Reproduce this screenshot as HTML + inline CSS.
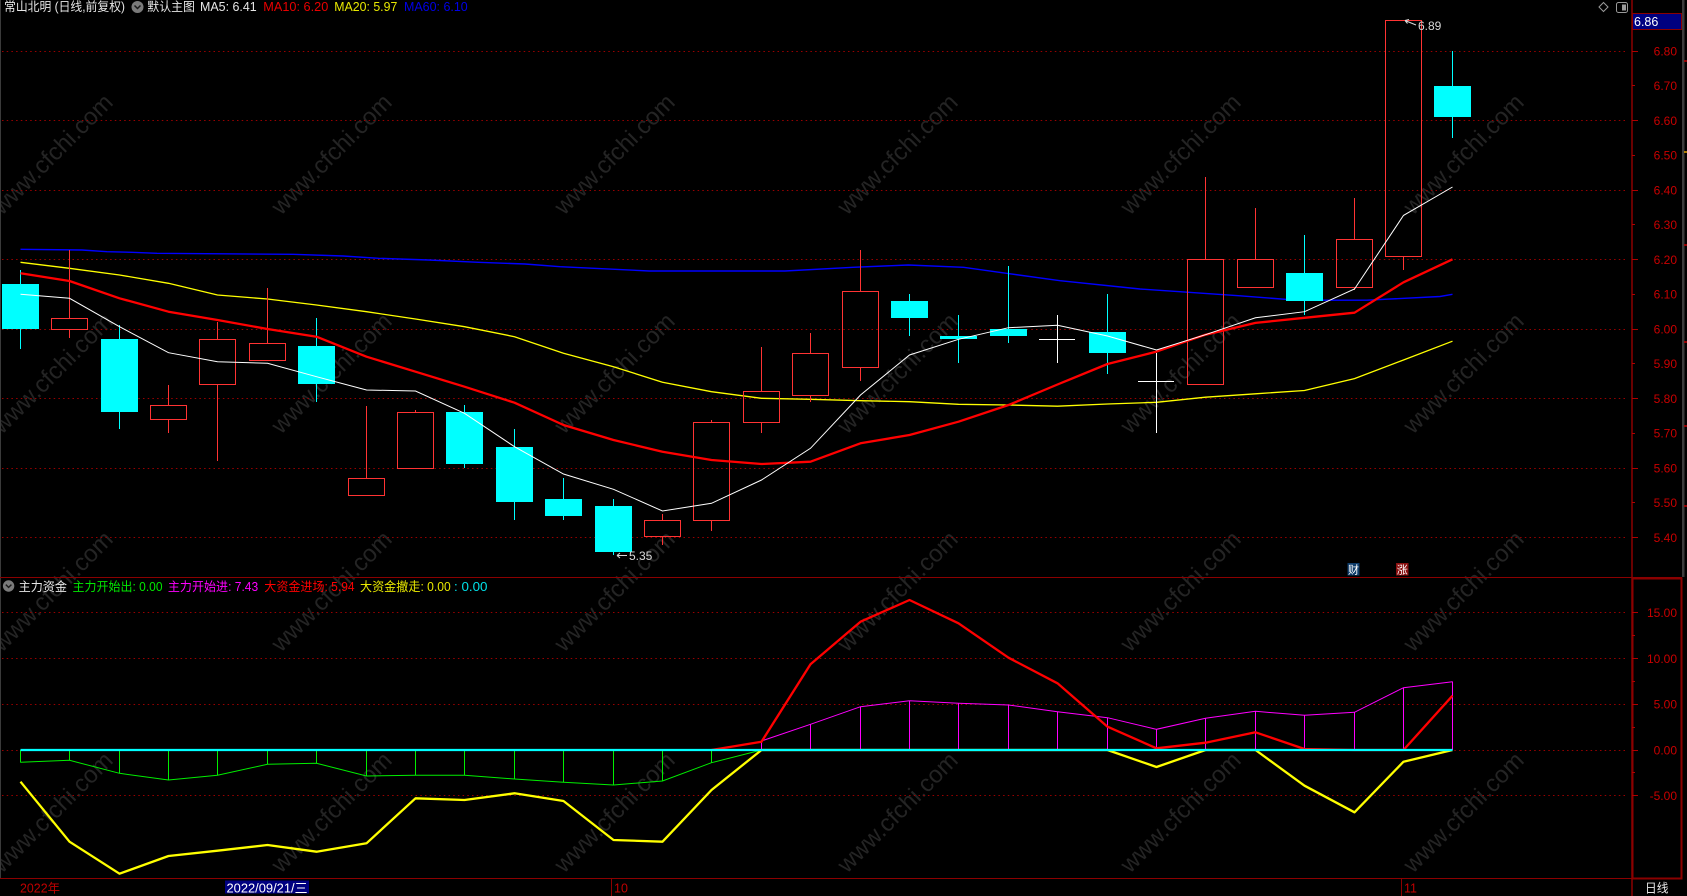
<!DOCTYPE html>
<html><head><meta charset="utf-8"><style>html,body{margin:0;padding:0;background:#000;}svg{display:block}</style></head>
<body>
<svg width="1687" height="896" viewBox="0 0 1687 896" xmlns="http://www.w3.org/2000/svg" font-family="Liberation Sans, Noto Sans CJK SC, sans-serif">
<rect x="0" y="0" width="1687" height="896" fill="#000"/>

<!-- watermarks -->
<g fill="#242424" font-size="24">
<text x="2" y="216" transform="rotate(-45 2 216)">www.cfchi.com</text>
<text x="281" y="216" transform="rotate(-45 281 216)">www.cfchi.com</text>
<text x="564" y="216" transform="rotate(-45 564 216)">www.cfchi.com</text>
<text x="847" y="216" transform="rotate(-45 847 216)">www.cfchi.com</text>
<text x="1130" y="216" transform="rotate(-45 1130 216)">www.cfchi.com</text>
<text x="1413" y="216" transform="rotate(-45 1413 216)">www.cfchi.com</text>
<text x="2" y="435" transform="rotate(-45 2 435)">www.cfchi.com</text>
<text x="281" y="435" transform="rotate(-45 281 435)">www.cfchi.com</text>
<text x="564" y="435" transform="rotate(-45 564 435)">www.cfchi.com</text>
<text x="847" y="435" transform="rotate(-45 847 435)">www.cfchi.com</text>
<text x="1130" y="435" transform="rotate(-45 1130 435)">www.cfchi.com</text>
<text x="1413" y="435" transform="rotate(-45 1413 435)">www.cfchi.com</text>
<text x="2" y="653" transform="rotate(-45 2 653)">www.cfchi.com</text>
<text x="281" y="653" transform="rotate(-45 281 653)">www.cfchi.com</text>
<text x="564" y="653" transform="rotate(-45 564 653)">www.cfchi.com</text>
<text x="847" y="653" transform="rotate(-45 847 653)">www.cfchi.com</text>
<text x="1130" y="653" transform="rotate(-45 1130 653)">www.cfchi.com</text>
<text x="1413" y="653" transform="rotate(-45 1413 653)">www.cfchi.com</text>
<text x="2" y="874" transform="rotate(-45 2 874)">www.cfchi.com</text>
<text x="281" y="874" transform="rotate(-45 281 874)">www.cfchi.com</text>
<text x="564" y="874" transform="rotate(-45 564 874)">www.cfchi.com</text>
<text x="847" y="874" transform="rotate(-45 847 874)">www.cfchi.com</text>
<text x="1130" y="874" transform="rotate(-45 1130 874)">www.cfchi.com</text>
<text x="1413" y="874" transform="rotate(-45 1413 874)">www.cfchi.com</text>
</g>

<!-- frame lines -->
<line x1="0.5" y1="0" x2="0.5" y2="879" stroke="#3a3a3a"/>
<line x1="0" y1="577.5" x2="1682" y2="577.5" stroke="#8b0000"/>
<line x1="0" y1="878.5" x2="1682" y2="878.5" stroke="#8b0000"/>
<line x1="1632" y1="0" x2="1632" y2="896" stroke="#8b0000" stroke-width="1.5"/>
<rect x="1632.5" y="578.5" width="49" height="300" fill="none" stroke="#8b0000" stroke-width="2"/>
<rect x="1682" y="0" width="2.5" height="577" fill="#3c3c3c"/>
<g stroke-width="1.5">
<line x1="1684" y1="61" x2="1687" y2="61" stroke="#c00000"/>
<line x1="1684" y1="152" x2="1687" y2="152" stroke="#e0a000"/>
<line x1="1684" y1="245" x2="1687" y2="245" stroke="#c00000"/>
<line x1="1684" y1="342" x2="1687" y2="342" stroke="#c00000"/>
<line x1="1684" y1="426" x2="1687" y2="426" stroke="#c00000"/>
<line x1="1684" y1="506" x2="1687" y2="506" stroke="#c00000"/>
</g>

<!-- grid main -->
<g stroke="#9a0000" stroke-width="1" stroke-dasharray="1.5,3.2">
<line x1="2" y1="51.5" x2="1627" y2="51.5"/>
<line x1="2" y1="120.5" x2="1627" y2="120.5"/>
<line x1="2" y1="190.5" x2="1627" y2="190.5"/>
<line x1="2" y1="259.5" x2="1627" y2="259.5"/>
<line x1="2" y1="329.5" x2="1627" y2="329.5"/>
<line x1="2" y1="398.5" x2="1627" y2="398.5"/>
<line x1="2" y1="468.5" x2="1627" y2="468.5"/>
<line x1="2" y1="537.5" x2="1627" y2="537.5"/>
<line x1="2" y1="612.5" x2="1627" y2="612.5"/>
<line x1="2" y1="658.5" x2="1627" y2="658.5"/>
<line x1="2" y1="704.5" x2="1627" y2="704.5"/>
<line x1="2" y1="750.5" x2="1627" y2="750.5"/>
<line x1="2" y1="795.5" x2="1627" y2="795.5"/>
</g>

<!-- axis ticks -->
<g stroke="#b00000" stroke-width="1">
<line x1="1632" y1="51.5" x2="1638" y2="51.5"/><line x1="1632" y1="85.5" x2="1635" y2="85.5"/>
<line x1="1632" y1="120.5" x2="1638" y2="120.5"/><line x1="1632" y1="155.5" x2="1635" y2="155.5"/>
<line x1="1632" y1="190.5" x2="1638" y2="190.5"/><line x1="1632" y1="224.5" x2="1635" y2="224.5"/>
<line x1="1632" y1="259.5" x2="1638" y2="259.5"/><line x1="1632" y1="294.5" x2="1635" y2="294.5"/>
<line x1="1632" y1="329.5" x2="1638" y2="329.5"/><line x1="1632" y1="363.5" x2="1635" y2="363.5"/>
<line x1="1632" y1="398.5" x2="1638" y2="398.5"/><line x1="1632" y1="433.5" x2="1635" y2="433.5"/>
<line x1="1632" y1="468.5" x2="1638" y2="468.5"/><line x1="1632" y1="502.5" x2="1635" y2="502.5"/>
<line x1="1632" y1="537.5" x2="1638" y2="537.5"/>
<line x1="1632" y1="612.5" x2="1638" y2="612.5"/><line x1="1632" y1="635.5" x2="1635" y2="635.5"/>
<line x1="1632" y1="658.5" x2="1638" y2="658.5"/><line x1="1632" y1="681.5" x2="1635" y2="681.5"/>
<line x1="1632" y1="704.5" x2="1638" y2="704.5"/><line x1="1632" y1="727.5" x2="1635" y2="727.5"/>
<line x1="1632" y1="750.5" x2="1638" y2="750.5"/><line x1="1632" y1="772.5" x2="1635" y2="772.5"/>
<line x1="1632" y1="795.5" x2="1638" y2="795.5"/>
</g>

<!-- axis labels -->
<g fill="#c80000" font-size="12" text-anchor="end">
<text x="1677" y="55.5">6.80</text>
<text x="1677" y="90">6.70</text>
<text x="1677" y="124.8">6.60</text>
<text x="1677" y="159.5">6.50</text>
<text x="1677" y="194.3">6.40</text>
<text x="1677" y="229">6.30</text>
<text x="1677" y="263.8">6.20</text>
<text x="1677" y="298.5">6.10</text>
<text x="1677" y="333.3">6.00</text>
<text x="1677" y="368">5.90</text>
<text x="1677" y="402.8">5.80</text>
<text x="1677" y="437.5">5.70</text>
<text x="1677" y="472.3">5.60</text>
<text x="1677" y="507">5.50</text>
<text x="1677" y="541.8">5.40</text>
<text x="1677" y="617">15.00</text>
<text x="1677" y="662.8">10.00</text>
<text x="1677" y="708.5">5.00</text>
<text x="1677" y="754.3">0.00</text>
<text x="1677" y="800">-5.00</text>
</g>

<!-- current price box -->
<rect x="1632.5" y="13.5" width="49" height="16" fill="#000080" stroke="#8b0000" stroke-width="1"/>
<text x="1634" y="26" fill="#ffffff" font-size="12.5">6.86</text>

<!-- top right icons -->
<path d="M1603.5,2.5 L1608,7 L1603.5,11.5 L1599,7 Z" fill="none" stroke="#9a9a9a" stroke-width="1"/>
<rect x="1616.5" y="2.5" width="11" height="10" rx="2" fill="none" stroke="#9a9a9a"/>
<rect x="1622" y="4.5" width="4" height="6" fill="#9a9a9a"/>

<!-- header -->
<g font-size="12.5">
<text x="4" y="11" fill="#e6e6e6" textLength="121" lengthAdjust="spacingAndGlyphs">常山北明 (日线,前复权)</text>
<circle cx="137.5" cy="7" r="6" fill="#7a7a7a"/>
<path d="M134.5,5.5 L137.5,8.5 L140.5,5.5" fill="none" stroke="#1a1a1a" stroke-width="1.5"/>
<text x="147.3" y="11" fill="#e6e6e6" textLength="47.7" lengthAdjust="spacingAndGlyphs">默认主图</text>
<text x="200" y="11" fill="#e6e6e6" textLength="56.7" lengthAdjust="spacingAndGlyphs">MA5: 6.41</text>
<text x="263.3" y="11" fill="#e80000" textLength="65" lengthAdjust="spacingAndGlyphs">MA10: 6.20</text>
<text x="334.3" y="11" fill="#e8e800" textLength="63" lengthAdjust="spacingAndGlyphs">MA20: 5.97</text>
<text x="404" y="11" fill="#0000e8" textLength="63.7" lengthAdjust="spacingAndGlyphs">MA60: 6.10</text>
</g>

<!-- MA lines -->
<polyline fill="none" stroke="#0000ff" stroke-width="1.4" points="20.5,249.3 82,250 107,251.7 132,252.3 157,253.3 293,254.3 343,256 378.6,258.3 428.6,260 478.6,262.3 525,264 560,266.7 649.3,271 785,271 852.9,267.3 908.2,265 963.6,267.3 1006.4,273.3 1060,280.7 1140,289 1240,295.8 1296.7,300.2 1366.7,300.2 1440,296.5 1452.5,294.3"/>
<polyline fill="none" stroke="#ffff00" stroke-width="1.3" points="20.5,262.3 69.5,268.3 119.5,275 168.5,283.3 217.5,295 267.5,299 316.5,305 366.5,311.7 415.5,319 464.5,326.7 514.5,336.7 563.5,353.3 613.5,366.7 662.5,382.3 711.5,391.7 761.5,398.3 810.5,399.3 860.5,400.7 909.5,401.7 958.5,404.3 1008.5,405 1057.5,406.2 1107.5,404 1156.5,402.3 1205.5,397.2 1255.5,393.8 1304.5,390.5 1354.5,378.6 1403.5,360 1452.5,341.2"/>

<!-- candles -->
<g stroke-width="1" shape-rendering="crispEdges">
<g stroke="#00ffff" fill="#00ffff">
<line x1="20.5" y1="270" x2="20.5" y2="349"/><rect x="2" y="284" width="37" height="45" stroke="none"/>
<line x1="119.5" y1="325" x2="119.5" y2="429"/><rect x="101" y="339" width="37" height="73" stroke="none"/>
<line x1="316.5" y1="318" x2="316.5" y2="402"/><rect x="298" y="346" width="37" height="38" stroke="none"/>
<line x1="464.5" y1="405" x2="464.5" y2="468"/><rect x="446" y="412" width="37" height="52" stroke="none"/>
<line x1="514.5" y1="429" x2="514.5" y2="520"/><rect x="496" y="447" width="37" height="55" stroke="none"/>
<line x1="563.5" y1="478" x2="563.5" y2="520"/><rect x="545" y="499" width="37" height="17" stroke="none"/>
<line x1="613.5" y1="499" x2="613.5" y2="555"/><rect x="595" y="506" width="37" height="46" stroke="none"/>
<line x1="909.5" y1="294" x2="909.5" y2="336"/><rect x="891" y="301" width="37" height="17" stroke="none"/>
<line x1="958.5" y1="315" x2="958.5" y2="363"/><rect x="940" y="336" width="37" height="3" stroke="none"/>
<line x1="1008.5" y1="266" x2="1008.5" y2="343"/><rect x="990" y="329" width="37" height="7" stroke="none"/>
<line x1="1107.5" y1="294" x2="1107.5" y2="374"/><rect x="1089" y="332" width="37" height="21" stroke="none"/>
<line x1="1304.5" y1="235" x2="1304.5" y2="315"/><rect x="1286" y="273" width="37" height="28" stroke="none"/>
<line x1="1452.5" y1="51" x2="1452.5" y2="138"/><rect x="1434" y="86" width="37" height="31" stroke="none"/>
</g>
<g stroke="#ff3333" fill="none">
<line x1="69.5" y1="250" x2="69.5" y2="318.5"/><line x1="69.5" y1="329.5" x2="69.5" y2="338"/><rect x="51.5" y="318.5" width="36" height="11"/>
<line x1="168.5" y1="385" x2="168.5" y2="405.5"/><line x1="168.5" y1="419.5" x2="168.5" y2="433"/><rect x="150.5" y="405.5" width="36" height="14"/>
<line x1="217.5" y1="322" x2="217.5" y2="339.5"/><line x1="217.5" y1="384.5" x2="217.5" y2="461"/><rect x="199.5" y="339.5" width="36" height="45"/>
<line x1="267.5" y1="288" x2="267.5" y2="343.5"/><rect x="249.5" y="343.5" width="36" height="17"/>
<line x1="366.5" y1="406" x2="366.5" y2="478.5"/><rect x="348.5" y="478.5" width="36" height="17"/>
<line x1="415.5" y1="410" x2="415.5" y2="412.5"/><rect x="397.5" y="412.5" width="36" height="56"/>
<line x1="662.5" y1="514" x2="662.5" y2="520.5"/><line x1="662.5" y1="536.5" x2="662.5" y2="545"/><rect x="644.5" y="520.5" width="36" height="16"/>
<line x1="711.5" y1="420" x2="711.5" y2="422.5"/><line x1="711.5" y1="520.5" x2="711.5" y2="531"/><rect x="693.5" y="422.5" width="36" height="98"/>
<line x1="761.5" y1="347" x2="761.5" y2="391.5"/><line x1="761.5" y1="422.5" x2="761.5" y2="433"/><rect x="743.5" y="391.5" width="36" height="31"/>
<line x1="810.5" y1="333" x2="810.5" y2="353.5"/><line x1="810.5" y1="395.5" x2="810.5" y2="402"/><rect x="792.5" y="353.5" width="36" height="42"/>
<line x1="860.5" y1="250" x2="860.5" y2="291.5"/><line x1="860.5" y1="367.5" x2="860.5" y2="381"/><rect x="842.5" y="291.5" width="36" height="76"/>
<line x1="1205.5" y1="177" x2="1205.5" y2="259.5"/><rect x="1187.5" y="259.5" width="36" height="125"/>
<line x1="1255.5" y1="208" x2="1255.5" y2="259.5"/><rect x="1237.5" y="259.5" width="36" height="28"/>
<line x1="1354.5" y1="198" x2="1354.5" y2="239.5"/><line x1="1354.5" y1="287.5" x2="1354.5" y2="290"/><rect x="1336.5" y="239.5" width="36" height="48"/>
<line x1="1403.5" y1="256.5" x2="1403.5" y2="270"/><rect x="1385.5" y="20.5" width="36" height="236"/>
</g>
<g stroke="#ffffff">
<line x1="1039" y1="339.5" x2="1075" y2="339.5"/><line x1="1057.5" y1="315" x2="1057.5" y2="363"/>
<line x1="1138" y1="381.5" x2="1174" y2="381.5"/><line x1="1156.5" y1="353" x2="1156.5" y2="433"/>
</g>
</g>

<polyline fill="none" stroke="#ff0000" stroke-width="2.3" stroke-linejoin="round" points="20.5,273.3 69.5,281 119.5,298.3 168.5,311.7 217.5,320 267.5,329 316.5,336.7 366.5,356.7 415.5,371.7 464.5,386.7 514.5,402.7 563.5,425 613.5,440 662.5,451.7 711.5,460 761.5,464 810.5,461.7 860.5,443.3 909.5,435 958.5,421.7 1008.5,405 1057.5,384.5 1107.5,364 1156.5,351.6 1205.5,334.7 1255.5,322.9 1304.5,317.8 1354.5,312.7 1403.5,282.3 1452.5,259.3"/>
<polyline fill="none" stroke="#ffffff" stroke-width="1" points="20.5,294.3 69.5,298.3 119.5,326.7 168.5,352.7 217.5,361.7 267.5,363.3 316.5,376.7 366.5,390 415.5,391 464.5,413.3 514.5,446.7 563.5,474 613.5,489.3 662.5,511 711.5,503.3 761.5,480 810.5,448.3 860.5,395 909.5,355 958.5,339.3 1008.5,327.7 1057.5,325.3 1107.5,336 1156.5,350 1205.5,334.7 1255.5,317.8 1304.5,311.7 1354.5,289 1403.5,215.4 1452.5,187"/>

<!-- high / low marks -->
<path d="M1405,20.5 L1416,25 M1405,20.5 L1409,19.5 M1405,20.5 L1407.5,23.5" stroke="#d8d8d8" stroke-width="1" fill="none"/>
<text x="1418" y="30" fill="#d8d8d8" font-size="12">6.89</text>
<path d="M617,555.5 L627,555.5 M617,555.5 L620,553 M617,555.5 L620,558" stroke="#d8d8d8" stroke-width="1" fill="none"/>
<text x="629" y="560" fill="#d8d8d8" font-size="12">5.35</text>

<!-- 财 涨 -->
<rect x="1347.5" y="563" width="12" height="12.5" fill="#0e3c6a"/>
<text x="1348" y="573.5" fill="#ffffff" font-size="11">财</text>
<rect x="1396" y="563" width="12.5" height="12.5" fill="#8a1010"/>
<text x="1396.7" y="573.5" fill="#ffffff" font-size="11">涨</text>

<!-- bottom header -->
<g font-size="12.5">
<circle cx="8.6" cy="586" r="5.7" fill="#7a7a7a"/>
<path d="M5.8,584.6 L8.6,587.4 L11.4,584.6" fill="none" stroke="#1a1a1a" stroke-width="1.4"/>
<text x="18.6" y="591" fill="#e6e6e6" textLength="48.4" lengthAdjust="spacingAndGlyphs">主力资金</text>
<text x="72.5" y="591" fill="#00e800" textLength="90" lengthAdjust="spacingAndGlyphs">主力开始出: 0.00</text>
<text x="167.9" y="591" fill="#ff00ff" textLength="90.3" lengthAdjust="spacingAndGlyphs">主力开始进: 7.43</text>
<text x="264.3" y="591" fill="#ff0000" textLength="90.3" lengthAdjust="spacingAndGlyphs">大资金进场: 5.94</text>
<text x="360" y="591" fill="#e8e800" textLength="90.7" lengthAdjust="spacingAndGlyphs">大资金撤走: 0.00</text>
<text x="454" y="591" fill="#00e0e8" textLength="33.5" lengthAdjust="spacingAndGlyphs">: 0.00</text>
</g>

<!-- bottom indicator -->
<g stroke="#00ee00" stroke-width="1" shape-rendering="crispEdges">
<line x1="20.5" y1="750" x2="20.5" y2="762.3"/>
<line x1="69.5" y1="750" x2="69.5" y2="760.3"/>
<line x1="119.5" y1="750" x2="119.5" y2="773.3"/>
<line x1="168.5" y1="750" x2="168.5" y2="780"/>
<line x1="217.5" y1="750" x2="217.5" y2="775.3"/>
<line x1="267.5" y1="750" x2="267.5" y2="764.3"/>
<line x1="316.5" y1="750" x2="316.5" y2="763.3"/>
<line x1="366.5" y1="750" x2="366.5" y2="776"/>
<line x1="415.5" y1="750" x2="415.5" y2="775.3"/>
<line x1="464.5" y1="750" x2="464.5" y2="775.3"/>
<line x1="514.5" y1="750" x2="514.5" y2="779"/>
<line x1="563.5" y1="750" x2="563.5" y2="782.3"/>
<line x1="613.5" y1="750" x2="613.5" y2="785"/>
<line x1="662.5" y1="750" x2="662.5" y2="781"/>
<line x1="711.5" y1="750" x2="711.5" y2="762.7"/>
</g>
<polyline fill="none" stroke="#00ee00" stroke-width="1" points="20.5,762.3 69.5,760.3 119.5,773.3 168.5,780 217.5,775.3 267.5,764.3 316.5,763.3 366.5,776 415.5,775.3 464.5,775.3 514.5,779 563.5,782.3 613.5,785 662.5,781 711.5,762.7 761.5,750"/>

<g stroke="#ff00ff" stroke-width="1" shape-rendering="crispEdges">
<line x1="761.5" y1="750" x2="761.5" y2="741"/>
<line x1="810.5" y1="750" x2="810.5" y2="724.3"/>
<line x1="860.5" y1="750" x2="860.5" y2="706.7"/>
<line x1="909.5" y1="750" x2="909.5" y2="700.7"/>
<line x1="958.5" y1="750" x2="958.5" y2="703.3"/>
<line x1="1008.5" y1="750" x2="1008.5" y2="705"/>
<line x1="1057.5" y1="750" x2="1057.5" y2="711.7"/>
<line x1="1107.5" y1="750" x2="1107.5" y2="717.7"/>
<line x1="1156.5" y1="750" x2="1156.5" y2="729.3"/>
<line x1="1205.5" y1="750" x2="1205.5" y2="718.3"/>
<line x1="1255.5" y1="750" x2="1255.5" y2="711.3"/>
<line x1="1304.5" y1="750" x2="1304.5" y2="715.3"/>
<line x1="1354.5" y1="750" x2="1354.5" y2="712.3"/>
<line x1="1403.5" y1="750" x2="1403.5" y2="687.7"/>
<line x1="1452.5" y1="750" x2="1452.5" y2="681.7"/>
</g>
<polyline fill="none" stroke="#ff00ff" stroke-width="1" points="761.5,741 810.5,724.3 860.5,706.7 909.5,700.7 958.5,703.3 1008.5,705 1057.5,711.7 1107.5,717.7 1156.5,729.3 1205.5,718.3 1255.5,711.3 1304.5,715.3 1354.5,712.3 1403.5,687.7 1452.5,681.7"/>

<polyline fill="none" stroke="#ff0000" stroke-width="2.3" stroke-linejoin="round" points="711.5,750 761.5,741.7 810.5,664.3 860.5,621.7 909.5,600 958.5,623.3 1008.5,657.7 1057.5,683.3 1107.5,726.7 1156.5,748.3 1205.5,742.7 1255.5,732.3 1304.5,749 1354.5,750 1403.5,750 1452.5,695.7"/>

<polyline fill="none" stroke="#ffff00" stroke-width="2.3" stroke-linejoin="round" points="20.5,781.7 69.5,841.7 119.5,873.7 168.5,856 217.5,850.7 267.5,845 316.5,851.7 366.5,843.3 415.5,798.3 464.5,800 514.5,793.3 563.5,801 613.5,840 662.5,841.7 711.5,790 761.5,750 810.5,750 860.5,750 909.5,750 958.5,750 1008.5,750 1057.5,750 1107.5,750 1156.5,767 1205.5,750 1255.5,750 1304.5,785.7 1354.5,812.3 1403.5,761.7 1452.5,750"/>

<line x1="20.5" y1="750" x2="1452.5" y2="750" stroke="#00ffff" stroke-width="2.2"/>

<!-- date axis -->
<g font-size="12.5">
<text x="20" y="892.5" fill="#c00000" textLength="40" lengthAdjust="spacingAndGlyphs">2022年</text>
<rect x="225" y="880.5" width="84" height="13" fill="#000080"/>
<text x="226.5" y="892.5" fill="#ffffff" textLength="81" lengthAdjust="spacingAndGlyphs">2022/09/21/三</text>
<line x1="611.5" y1="879" x2="611.5" y2="896" stroke="#8b0000"/>
<text x="614" y="892.5" fill="#c00000">10</text>
<line x1="1401.5" y1="879" x2="1401.5" y2="896" stroke="#8b0000"/>
<text x="1404" y="892.5" fill="#c00000">11</text>
<text x="1645" y="892.5" fill="#e6e6e6" textLength="23.5" lengthAdjust="spacingAndGlyphs">日线</text>
</g>
</svg>
</body></html>
